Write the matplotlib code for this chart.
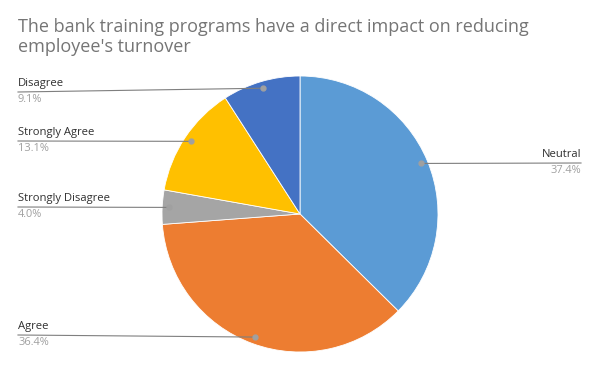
import numpy as np
import matplotlib.pyplot as plt

labels = ['Neutral', 'Agree', 'Strongly Disagree', 'Strongly Agree', 'Disagree']
shares = [37.4, 36.4, 4.0, 13.1, 9.1]
colors = ['#5B9BD5', '#ED7D31', '#A5A5A5', '#FFC000', '#4472C4']

W, H = 600, 371
fig = plt.figure(figsize=(W / 100, H / 100), dpi=100)
ax = fig.add_axes([0, 0, 1, 1])

cx, cy, R = 300, H - 214, 138
ax.pie(shares, colors=colors, startangle=90, counterclock=False,
       center=(cx, cy), radius=R, frame=True,
       wedgeprops=dict(edgecolor='white', linewidth=0.6))
ax.set_xlim(0, W)
ax.set_ylim(0, H)
ax.set_aspect('equal')
ax.axis('off')

# label line heights (pixels from top) and side
layout = {
    'Neutral': (163, 'right'),
    'Agree': (335, 'left'),
    'Strongly Disagree': (207, 'left'),
    'Strongly Agree': (141, 'left'),
    'Disagree': (92, 'left'),
}

total = sum(shares)
cum = 0
for lab, v in zip(labels, shares):
    ang = np.deg2rad(90 - 360 * (cum + v / 2) / total)
    cum += v
    dx, dy = cx + 0.95 * R * np.cos(ang), cy + 0.95 * R * np.sin(ang)
    ly, side = layout[lab]
    ly = H - ly
    if side == 'left':
        x0, ha = 18, 'left'
    else:
        x0, ha = 581, 'right'
    ax.plot([x0, dx], [ly, dy], color='#7f7f7f', lw=0.8)
    ax.plot(dx, dy, 'o', color='#a0a0a0', ms=3.5)
    ax.text(x0, ly + 3, lab, ha=ha, va='bottom', fontsize=8.1,
            color='#303030', family='Open Sans')
    ax.text(x0, ly - 2, f'{v:.1f}%', ha=ha, va='top', fontsize=7.9,
            color='#a0a0a0', family='Open Sans')

fig.text(18 / W, 1 - 18 / H,
         "The bank training programs have a direct impact on reducing\nemployee's turnover",
         ha='left', va='top', fontsize=13, color='#757575', family='Open Sans',
         linespacing=1.15)

fig.savefig('out.png', dpi=100)
